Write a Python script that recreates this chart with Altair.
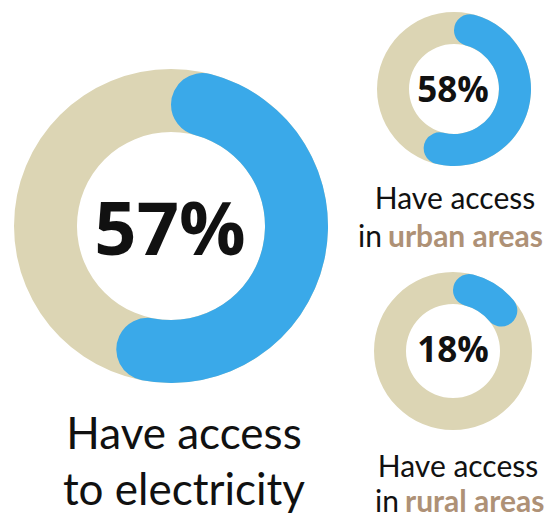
import altair as alt
import pandas as pd

# ---- data ----
groups = ["total", "urban", "rural"]
values = [57, 58, 18]
line1 = ["Have access", "Have access", "Have access"]
line2_plain = ["to electricity", "in", "in"]
line2_accent = ["", "urban areas", "rural areas"]

df = pd.DataFrame({
    "group": groups,
    "value": values,
    "line1": line1,
    "plain": line2_plain,
    "accent": line2_accent,
})

BEIGE = "#DCD5B4"
BLUE = "#3AA9E9"
BROWN = "#AE9176"
INK = "#111111"
TAU = 6.283185307

base = alt.Chart(df)
theta_scale = alt.Scale(domain=[0, 100], range=[0, TAU])


def donut(group, cx, cy, r_out, r_in):
    sel = base.transform_filter(alt.datum.group == group)
    ring = sel.mark_arc(x=cx, y=cy, radius=r_out, radius2=r_in,
                        theta=0, theta2=TAU).encode(color=alt.value(BEIGE))
    arc = sel.transform_calculate(start="0").mark_arc(
        x=cx, y=cy, radius=r_out, radius2=r_in,
        cornerRadius=(r_out - r_in) / 2,
    ).encode(
        theta=alt.Theta("start:Q", scale=theta_scale, stack=None),
        theta2=alt.Theta2("value:Q"),
        color=alt.value(BLUE),
    )
    return [ring, arc]


def pct(group, cx, baseline_y, size):
    return base.transform_filter(alt.datum.group == group).transform_calculate(
        pct="datum.value + '%'"
    ).mark_text(
        x=cx, y=baseline_y, align="center", baseline="alphabetic",
        font="Open Sans", fontWeight="bold", fontSize=size, color=INK,
    ).encode(text="pct:N")


def txt(group, field, x, y, size, align="center", weight="normal", color=INK):
    return base.transform_filter(alt.datum.group == group).mark_text(
        x=x, y=y, align=align, baseline="alphabetic",
        font="Lato", fontWeight=weight, fontSize=size, color=color,
    ).encode(text=f"{field}:N")


layers = []
layers += donut("total", 171, 226, 157, 94)
layers += donut("urban", 454, 89, 77, 45)
layers += donut("rural", 453, 351, 79, 47)

layers.append(pct("total", 170, 255, 74))
layers.append(pct("urban", 453, 102, 35))
layers.append(pct("rural", 453, 362, 35))

# big labels
layers.append(txt("total", "line1", 184, 449, 44))
layers.append(txt("total", "plain", 184, 505, 44))

# urban labels
layers.append(txt("urban", "line1", 455, 209, 30))
layers.append(txt("urban", "plain", 382, 247, 30, align="right"))
layers.append(txt("urban", "accent", 388, 247, 30, align="left", weight="bold", color=BROWN))

# rural labels
layers.append(txt("rural", "line1", 458, 477, 30))
layers.append(txt("rural", "plain", 399, 512, 30, align="right"))
layers.append(txt("rural", "accent", 405, 512, 30, align="left", weight="bold", color=BROWN))

chart = alt.layer(*layers).properties(
    width=547, height=517, padding=0, autosize="none", background="white"
).configure_view(stroke=None)

chart.save("out.html", embed_options={"renderer": "svg", "actions": False})
